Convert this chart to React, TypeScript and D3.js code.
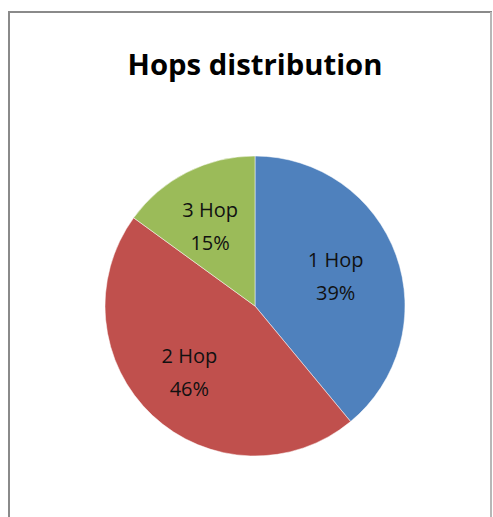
import React from "react";
import * as d3 from "d3";

const categories = ["1 Hop", "2 Hop", "3 Hop"];
const values = [39, 46, 15];
const colors = ["#4F81BD", "#C0504D", "#9BBB59"];
const title = "Hops distribution";

export default function App() {
  const W = 493, H = 517;
  const cx = 255, cy = 306, R = 150;
  const pie = d3.pie<number>().sort(null).value((d) => d);
  const arcs = pie(values);
  const arc = d3.arc<d3.PieArcDatum<number>>().innerRadius(0).outerRadius(R);
  const labelArc = d3.arc<d3.PieArcDatum<number>>().innerRadius(180).outerRadius(0);
  const total = d3.sum(values);
  return (
    <svg width={W} height={H} style={{ position: "absolute", left: 0, top: 0, background: "#fff" }}>
      <rect x={9} y={12} width={482} height={520} fill="#fff" stroke="#8a8a8a" strokeWidth={2} />
      <line x1={491} y1={12} x2={491} y2={517} stroke="#e4e4e4" strokeWidth={1} />
      <text x={255} y={75} textAnchor="middle" fontFamily="'Open Sans', sans-serif" fontWeight="bold" fontSize={29} fill="#000" textLength={255} lengthAdjust="spacingAndGlyphs">
        {title}
      </text>
      <g transform={`translate(${cx},${cy})`}>
        {arcs.map((a, i) => (
          <path key={i} d={arc(a) || ""} fill={colors[i]} stroke="#fff" strokeWidth={0.5} />
        ))}
        {arcs.map((a, i) => {
          const [x, y] = labelArc.centroid(a);
          return (
            <text key={"t" + i} x={x - 4} y={y} textAnchor="middle" fontFamily="'Open Sans', sans-serif" fontSize={20} fill="#111">
              <tspan x={x - 4} dy={-9}>{categories[i]}</tspan>
              <tspan x={x - 4} dy={33}>{Math.round((values[i] / total) * 100)}%</tspan>
            </text>
          );
        })}
      </g>
    </svg>
  );
}
